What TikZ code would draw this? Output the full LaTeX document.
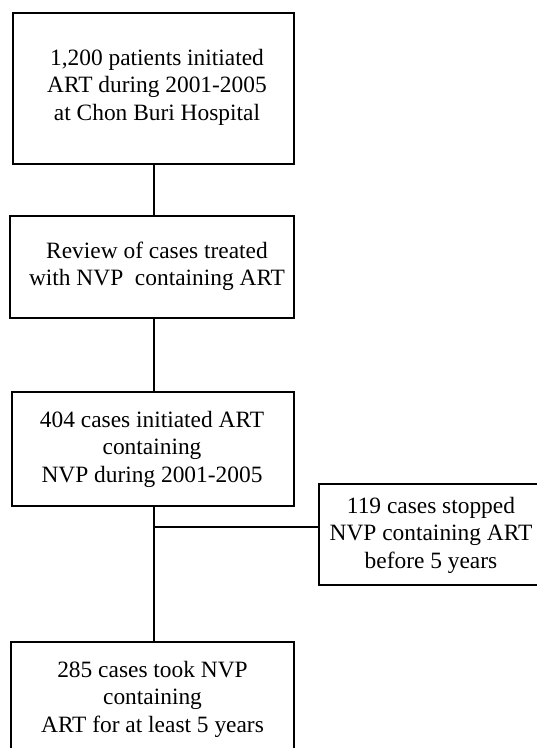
\documentclass[tikz,border=0pt]{standalone}
\usepackage{fontspec}
\setmainfont{Liberation Serif}
\begin{document}
\begin{tikzpicture}[x=1pt,y=-1pt,
  boxnode/.style={draw=black,line width=1.8pt,anchor=north west,inner sep=0pt,fill=white},
  txt/.style={anchor=north,inner sep=0pt,align=center,font=\fontsize{23.4}{27.5}\selectfont},
  conn/.style={draw=black,line width=1.8pt}]
\useasboundingbox (0,0) rectangle (537,748);
\clip (0,0) rectangle (537,748);
\coordinate (spine) at (154,0);
\coordinate (br) at (154,527);
% boxes
\node[boxnode,minimum width=281pt,minimum height=151pt] (b1) at (12,12) {};
\node[boxnode,minimum width=284pt,minimum height=102pt] (b2) at (9,215) {};
\node[boxnode,minimum width=282pt,minimum height=114pt] (b3) at (11,391) {};
\node[boxnode,minimum width=224pt,minimum height=101pt] (b4) at (318,483) {};
\node[boxnode,minimum width=283pt,minimum height=125pt] (b5) at (10,641) {};
% texts
\node[txt] (t1) at (157,46) {\strut 1,200 patients initiated\\ART during 2001-2005\\at Chon Buri Hospital};
\node[txt] (t2) at (157,239) {\strut Review of cases treated\\with NVP\ \ containing ART};
\node[txt] (t3) at (152,408) {\strut 404 cases initiated ART\\containing\\NVP during 2001-2005};
\node[txt] (t4) at (431,494) {\strut 119 cases stopped\\NVP containing ART\\before 5 years};
\node[txt] (t5) at (152.5,658) {\strut 285 cases took NVP\\containing\\ART for at least 5 years};
% connectors
\draw[conn] (b1.south -| spine) -- (b2.north -| spine);
\draw[conn] (b2.south -| spine) -- (b3.north -| spine);
\draw[conn] (b3.south -| spine) -- (b5.north -| spine);
\draw[conn] (br) -- (b4.west |- br);
\end{tikzpicture}
\end{document}
